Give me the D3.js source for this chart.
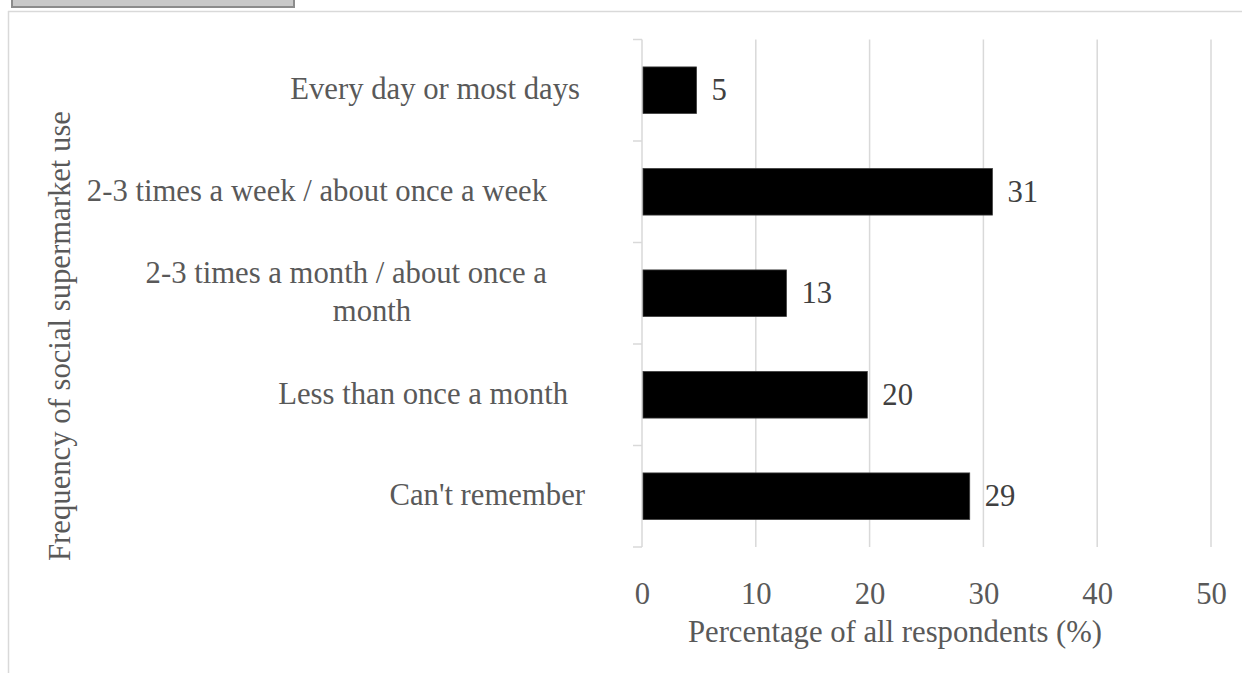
<!DOCTYPE html>
<html><head><meta charset="utf-8">
<script src="https://cdn.jsdelivr.net/npm/d3@7"></script>
<style>
body{margin:0;background:#fff}
svg{display:block}
text{font-family:"Liberation Serif","Times New Roman",Times,serif}
</style>
</head><body>
<svg id="chart" width="1242" height="673"></svg>
<script>
// ---- data ----
const categories = [
  "Every day or most days",
  "2-3 times a week / about once a week",
  "2-3 times a month / about once a month",
  "Less than once a month",
  "Can't remember"
];
const values = [4.8, 30.8, 12.7, 19.8, 28.8];
const valueLabels = ["5", "31", "13", "20", "29"];
const xTicks = [0, 10, 20, 30, 40, 50];
const xTitle = "Percentage of all respondents (%)";
const yTitle = "Frequency of social supermarket use";

// ---- layout ----
const FS = 30.7;
const GRID = "#d9d9d9";
const TXT = "#595959";
const labelGap = [62, 95, 95, 74, 57]; // right-edge gap from axis per label
const svg = d3.select("#chart");

const x = d3.scaleLinear().domain([0, 50]).range([642, 1211]);
const y = d3.scaleBand().domain(categories).range([39.5, 547])
  .paddingInner(0.54).paddingOuter(0.27);

// chart frame + top-left box
svg.append("rect").attr("x", 12).attr("y", -3).attr("width", 282).attr("height", 10)
  .attr("fill", "#c9c9c9").attr("stroke", "#8c8c8c").attr("stroke-width", 2);
svg.append("line").attr("x1", 8).attr("x2", 1242).attr("y1", 11.5).attr("y2", 11.5)
  .attr("stroke", GRID).attr("stroke-width", 1.5);
svg.append("line").attr("x1", 8.5).attr("x2", 8.5).attr("y1", 11).attr("y2", 673)
  .attr("stroke", GRID).attr("stroke-width", 1.5);

// gridlines
const [y0, y1] = y.range();
svg.append("g").selectAll("line").data(xTicks.filter(t => t > 0)).join("line")
  .attr("x1", d => x(d)).attr("x2", d => x(d))
  .attr("y1", y0).attr("y2", y1)
  .attr("stroke", GRID).attr("stroke-width", 1.5);

// y axis line and boundary ticks
svg.append("line").attr("x1", x(0)).attr("x2", x(0)).attr("y1", y0).attr("y2", y1)
  .attr("stroke", GRID).attr("stroke-width", 1.5);
svg.append("g").selectAll("line").data(d3.range(categories.length + 1)).join("line")
  .attr("x1", x(0) - 9).attr("x2", x(0))
  .attr("y1", i => y0 + i * y.step()).attr("y2", i => y0 + i * y.step())
  .attr("stroke", GRID).attr("stroke-width", 1.5);

// bars
svg.append("g").selectAll("rect").data(categories).join("rect")
  .attr("x", x(0) + 1)
  .attr("y", d => y(d))
  .attr("width", (d, i) => x(values[i]) - x(0) - 1)
  .attr("height", y.bandwidth())
  .attr("fill", "#000").attr("stroke", "#404040").attr("stroke-width", 0.75);

// value labels
svg.append("g").selectAll("text").data(categories).join("text")
  .attr("x", (d, i) => x(values[i]) + 15)
  .attr("y", d => y(d) + y.bandwidth() / 2 + 10)
  .attr("font-size", FS).attr("fill", "#404040")
  .text((d, i) => valueLabels[i]);

// x axis tick labels
const xAxis = svg.append("g").attr("transform", `translate(0,${y1})`)
  .call(d3.axisBottom(x).tickValues(xTicks).tickSize(0).tickPadding(35).tickFormat(d3.format("d")));
xAxis.select(".domain").remove();
xAxis.selectAll("text").attr("font-size", FS).attr("fill", TXT)
  .attr("font-family", "Liberation Serif, Times New Roman, serif");

// category labels with wrapping
const maxW = 470;
const cat = svg.append("g");
categories.forEach((c, i) => {
  const cy = y(c) + y.bandwidth() / 2;
  const right = x(0) - labelGap[i];
  const t = cat.append("text").attr("font-size", FS).attr("fill", TXT);
  // measure wrap
  const words = c.split(" ");
  let lines = [], cur = [];
  const probe = cat.append("text").attr("font-size", FS);
  words.forEach(w => {
    const test = cur.concat(w).join(" ");
    probe.text(test);
    if (probe.node().getComputedTextLength() > maxW && cur.length) {
      lines.push(cur.join(" ")); cur = [w];
    } else cur.push(w);
  });
  lines.push(cur.join(" "));
  probe.remove();
  if (lines.length === 1) {
    t.attr("x", right).attr("y", cy + 9).attr("text-anchor", "end").text(lines[0]);
  } else {
    t.append("tspan").attr("x", right).attr("y", cy - 10.5).attr("text-anchor", "end").text(lines[0]);
    t.append("tspan").attr("x", right - 175).attr("y", cy + 28.2).attr("text-anchor", "middle").text(lines[1]);
  }
});

// axis titles
svg.append("text").attr("x", 895).attr("y", 642).attr("text-anchor", "middle")
  .attr("font-size", FS).attr("fill", TXT).text(xTitle);
svg.append("text").attr("transform", "translate(70,336) rotate(-90)").attr("text-anchor", "middle")
  .attr("font-size", FS).attr("fill", TXT).text(yTitle);
</script>
</body></html>
